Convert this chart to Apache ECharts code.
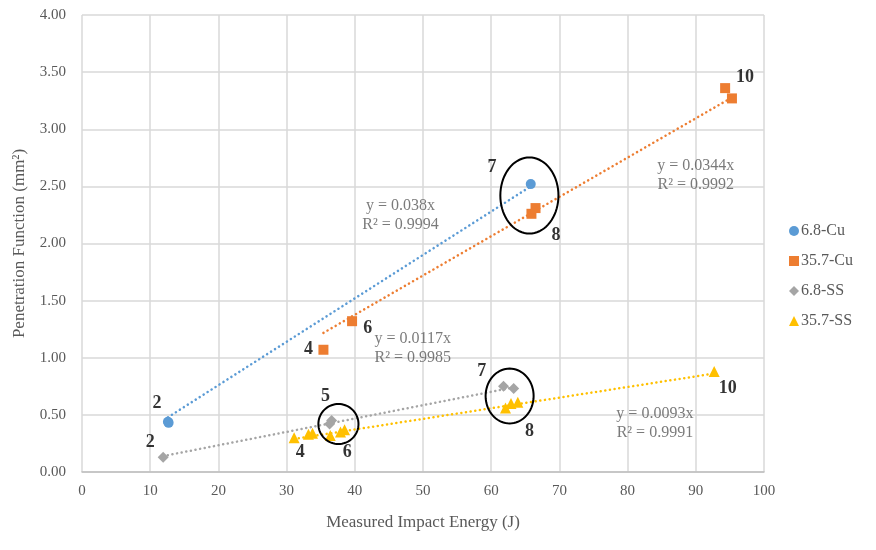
<!DOCTYPE html>
<html>
<head>
<meta charset="utf-8">
<script src="https://cdn.jsdelivr.net/npm/echarts@6/dist/echarts.min.js"></script>
<style>html,body{margin:0;padding:0;background:#fff}#c{width:876px;height:550px}</style>
</head>
<body>
<div id="c"></div>
<script>
// ---- data ----
var seriesNames = ['6.8-Cu', '35.7-Cu', '6.8-SS', '35.7-SS'];
var cu68 = [[12.6, 0.44], [12.7, 0.43], [65.8, 2.52]];
var cu357 = [[35.4, 1.07], [39.6, 1.32], [65.9, 2.26], [66.5, 2.31], [94.3, 3.36], [95.3, 3.27]];
var ss68 = [[11.9, 0.13], [36.3, 0.42], [36.6, 0.45], [61.8, 0.75], [63.3, 0.73]];
var ss357 = [[31.1, 0.30], [33.2, 0.33], [33.8, 0.34], [36.4, 0.32], [37.9, 0.35], [38.5, 0.37],
             [62.1, 0.56], [62.9, 0.60], [63.9, 0.61], [92.7, 0.88]];
var slopes = [0.038, 0.0344, 0.0117, 0.0093];
var equations = ['y = 0.038x\nR² = 0.9994', 'y = 0.0344x\nR² = 0.9992', 'y = 0.0117x\nR² = 0.9985', 'y = 0.0093x\nR² = 0.9991'];
var equationAnchors = [[46.7, 2.25], [90.0, 2.60], [48.5, 1.085], [84.0, 0.43]];
var pointLabels = [[11.0, 0.60, '2'], [10.0, 0.26, '2'], [33.2, 1.07, '4'], [41.9, 1.26, '6'], [60.1, 2.67, '7'],
                   [69.5, 2.07, '8'], [97.2, 3.45, '10'], [35.7, 0.66, '5'], [32.0, 0.175, '4'], [38.9, 0.175, '6'],
                   [58.6, 0.88, '7'], [65.6, 0.36, '8'], [94.7, 0.73, '10']];
var clusterEllipses = [[65.6, 2.42, 4.26, 0.333], [37.6, 0.42, 2.94, 0.175], [62.7, 0.665, 3.52, 0.24]];
var xTicks = [0, 10, 20, 30, 40, 50, 60, 70, 80, 90, 100];
var yTicks = ['0.00', '0.50', '1.00', '1.50', '2.00', '2.50', '3.00', '3.50', '4.00'];

// ---- styling ----
var colors = ['#5B9BD5', '#ED7D31', '#A5A5A5', '#FFC000'];
var symbols = ['circle', 'rect', 'diamond', 'triangle'];
var symbolSizes = [10, 10, 11, 11];
var serif = '"Liberation Serif", "Times New Roman", serif';
var allData = [cu68, cu357, ss68, ss357];

function trend(data, k) {
  var xs = data.map(function (d) { return d[0]; });
  var a = Math.min.apply(null, xs), b = Math.max.apply(null, xs);
  return [[a, k * a], [b, k * b]];
}

var series = [];
allData.forEach(function (d, i) {
  series.push({
    name: seriesNames[i] + ' trend', type: 'line', data: trend(d, slopes[i]),
    symbol: 'none', silent: true, z: 2,
    lineStyle: { color: colors[i], width: 2.5, type: [0.1, 4.6], cap: 'round' }
  });
});
allData.forEach(function (d, i) {
  series.push({
    name: seriesNames[i], type: 'scatter', data: d, symbol: symbols[i],
    symbolSize: symbolSizes[i], itemStyle: { color: colors[i], opacity: 1 }, z: 3
  });
});
// equation labels
series.push({
  type: 'scatter', silent: true, symbolSize: 0, z: 4,
  data: equationAnchors.map(function (p) { return p; }),
  label: { show: true, position: 'inside', color: '#595959', fontFamily: serif, fontSize: 16, lineHeight: 19,
    formatter: function (p) { return equations[p.dataIndex]; } }
});
// point number labels
series.push({
  type: 'scatter', silent: true, symbolSize: 0, z: 4,
  data: pointLabels.map(function (p) { return [p[0], p[1]]; }),
  label: { show: true, position: 'inside', color: '#000', fontFamily: serif, fontSize: 18, fontWeight: 'bold',
    formatter: function (p) { return pointLabels[p.dataIndex][2]; } }
});
// cluster ellipses
series.push({
  type: 'custom', silent: true, z: 5,
  data: clusterEllipses,
  renderItem: function (params, api) {
    var c = api.coord([api.value(0), api.value(1)]);
    var s = api.size([api.value(2), api.value(3)]);
    var pts = [];
    for (var t = 0; t < 72; t++) {
      var a = t / 72 * Math.PI * 2;
      pts.push([c[0] + s[0] * Math.cos(a), c[1] + s[1] * Math.sin(a)]);
    }
    return { type: 'polygon', shape: { points: pts }, style: { fill: 'none', stroke: '#000', lineWidth: 2 } };
  }
});

var chart = echarts.init(document.getElementById('c'), null, { renderer: 'canvas' });
chart.setOption({
  animation: false,
  backgroundColor: '#fff',
  color: colors,
  grid: { left: 82, right: 112, top: 15, bottom: 78, containLabel: false },
  legend: {
    data: seriesNames.map(function (n, i) { return { name: n, icon: symbols[i] }; }),
    orient: 'vertical', left: 784, top: 218, itemGap: 14, itemWidth: 10, itemHeight: 10,
    textStyle: { color: '#595959', fontFamily: serif, fontSize: 16, padding: [0, 0, 0, -3] }
  },
  xAxis: {
    type: 'value', min: 0, max: 100, interval: 10,
    name: 'Measured Impact Energy (J)', nameLocation: 'middle', nameGap: 42,
    nameTextStyle: { color: '#595959', fontFamily: serif, fontSize: 17 },
    axisLine: { show: true, lineStyle: { color: '#BFBFBF', width: 1.5 } },
    axisTick: { show: false },
    axisLabel: { color: '#595959', fontFamily: serif, fontSize: 15, margin: 12,
      formatter: function (v) { return xTicks.indexOf(v) >= 0 ? String(v) : ''; } },
    splitLine: { show: true, lineStyle: { color: '#D9D9D9', width: 1.5 } }
  },
  yAxis: {
    type: 'value', min: 0, max: 4, interval: 0.5,
    name: 'Penetration Function (mm²)', nameLocation: 'middle', nameGap: 54, nameRotate: 90,
    nameTextStyle: { color: '#595959', fontFamily: serif, fontSize: 17 },
    axisLine: { show: false }, axisTick: { show: false },
    axisLabel: { color: '#595959', fontFamily: serif, fontSize: 15, margin: 16,
      formatter: function (v) { return yTicks[Math.round(v / 0.5)]; } },
    splitLine: { show: true, lineStyle: { color: '#D9D9D9', width: 1.5 } }
  },
  series: series
});
</script>
</body>
</html>
